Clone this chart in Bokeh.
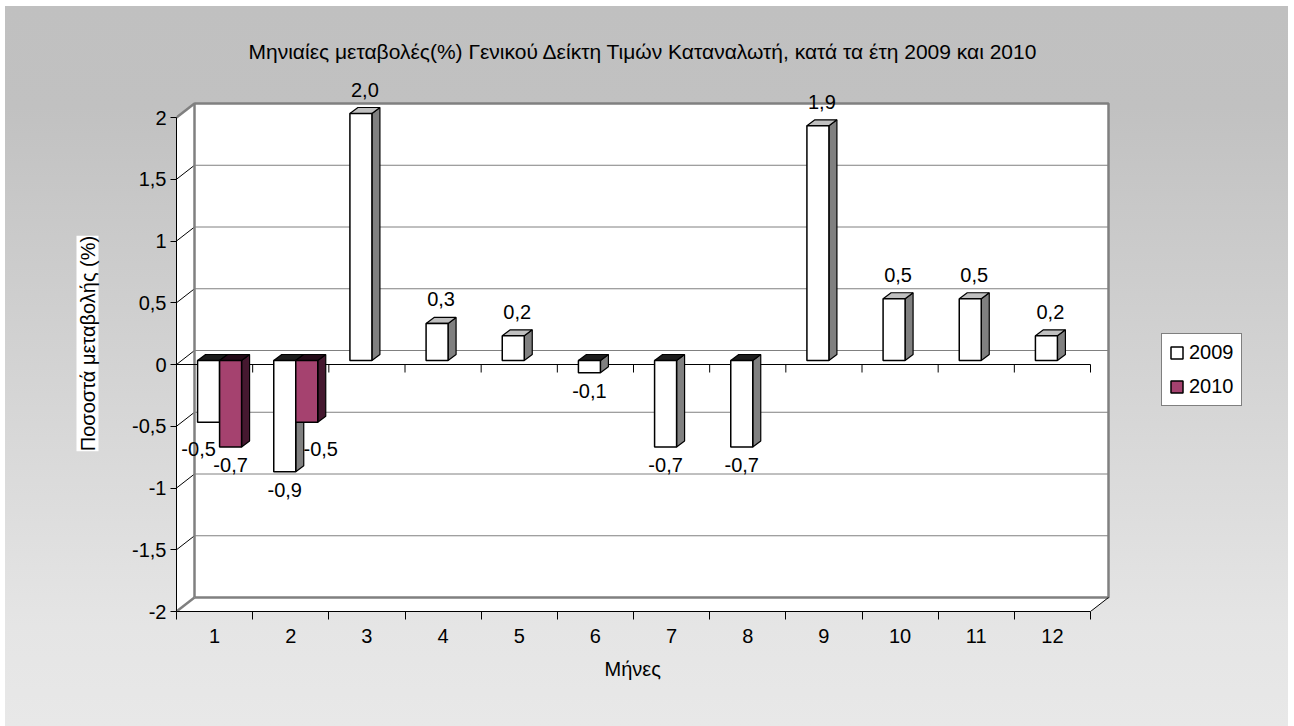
import math
from bokeh.plotting import figure
from bokeh.models import (Range1d, FixedTicker, LabelSet, ColumnDataSource,
                          Legend, LegendItem, Title)
from bokeh.embed import file_html
from bokeh.resources import INLINE
from bokeh.core.properties import value

# ---------------- data ----------------
months = ["1", "2", "3", "4", "5", "6", "7", "8", "9", "10", "11", "12"]
series_names = ["2009", "2010"]
values_2009 = [-0.5, -0.9, 2.0, 0.3, 0.2, -0.1, -0.7, -0.7, 1.9, 0.5, 0.5, 0.2]
values_2010 = [-0.7, -0.5, None, None, None, None, None, None, None, None, None, None]
y_ticks = [-2, -1.5, -1, -0.5, 0, 0.5, 1, 1.5, 2]
y_tick_labels = ["-2", "-1,5", "-1", "-0,5", "0", "0,5", "1", "1,5", "2"]
title_text = "Μηνιαίες μεταβολές(%) Γενικού Δείκτη Τιμών Καταναλωτή, κατά τα έτη 2009 και 2010"
x_title = "Μήνες"
y_title = "Ποσοστά μεταβολής (%)"

# ---------------- layout / style ----------------
FONT = "Liberation Sans"
FS = "20px"
MARGIN_L, MARGIN_T = 5, 6
W, H = 1283, 720
B_LEFT, B_RIGHT, B_TOP, B_BOTTOM = 171, 38, 69, 115
FRAME_W = W - B_LEFT - B_RIGHT
FRAME_H = H - B_TOP - B_BOTTOM
PXX = 914.0 / 12.0        # px per category on the front plane
PXY = 494.0 / 4.0         # px per unit on the front plane
WALL_DX, WALL_DY = 18.0, 14.0
BAR_W, BAR_DX0, BAR_DY0 = 22.0, 5.0, 4.0
BAR_DX, BAR_DY = 8.0, 6.0

X0, X1 = 0.5, 0.5 + len(months)
Y0, Y1 = y_ticks[0], y_ticks[-1]

def ux(px):
    return px / PXX

def uy(px):
    return px / PXY

p = figure(width=W, height=H,
           x_range=Range1d(X0, X0 + FRAME_W / PXX),
           y_range=Range1d(Y0, Y0 + FRAME_H / PXY),
           output_backend="svg", toolbar_location=None,
           min_border_left=B_LEFT, min_border_right=B_RIGHT,
           min_border_top=B_TOP, min_border_bottom=B_BOTTOM,
           background_fill_color=None, border_fill_color=None,
           outline_line_color=None)
p.styles = {"background": "linear-gradient(to bottom, #c0c0c0 0%, #c1c1c1 14%, #e5e5e5 86%, #e8e8e8 100%)",
            "margin-left": f"{MARGIN_L}px", "margin-top": f"{MARGIN_T}px"}
p.xgrid.grid_line_color = None
p.ygrid.grid_line_color = None

# title
p.title.text = title_text
p.title.text_font = FONT
p.title.text_font_size = "21px"
p.title.text_font_style = "normal"
p.title.text_color = "black"
p.title.align = "left"
p.title.offset = 72
p.title.standoff = 26

WDX, WDY = ux(WALL_DX), uy(WALL_DY)

# walls and floor
p.patches(xs=[[X0, X0 + WDX, X0 + WDX, X0], [X0, X1, X1 + WDX, X0 + WDX]],
          ys=[[Y0, Y0 + WDY, Y1 + WDY, Y1], [Y0, Y0, Y0 + WDY, Y0 + WDY]],
          fill_color="white", line_color=None)
p.quad(left=[X0 + WDX], right=[X1 + WDX], bottom=[Y0 + WDY], top=[Y1 + WDY],
       fill_color="white", line_color=None)

# gridlines on back wall and diagonals on side wall
grid_vals = [t for t in y_ticks if Y0 < t < Y1]
p.segment(x0=[X0 + WDX] * len(grid_vals), y0=[g + WDY for g in grid_vals],
          x1=[X1 + WDX] * len(grid_vals), y1=[g + WDY for g in grid_vals],
          line_color="#808080", line_width=1)
p.segment(x0=[X0] * len(grid_vals), y0=grid_vals,
          x1=[X0 + WDX] * len(grid_vals), y1=[g + WDY for g in grid_vals],
          line_color="black", line_width=1)

# wall outlines
p.line(x=[X0 + WDX, X0 + WDX, X1 + WDX, X1 + WDX, X0 + WDX],
       y=[Y0 + WDY, Y1 + WDY, Y1 + WDY, Y0 + WDY, Y0 + WDY],
       line_color="#808080", line_width=2.5)
p.segment(x0=[X0, X0], y0=[Y1, Y0], x1=[X0 + WDX, X0 + WDX], y1=[Y1 + WDY, Y0 + WDY],
          line_color="#808080", line_width=2.5)
p.segment(x0=[X1], y0=[Y0], x1=[X1 + WDX], y1=[Y0 + WDY], line_color="black", line_width=1)

# category axis at zero with downward ticks
bounds_x = [X0 + k for k in range(len(months) + 1)]
p.line(x=[X0, X1], y=[0, 0], line_color="black", line_width=1)
p.segment(x0=bounds_x, y0=[0] * len(bounds_x), x1=bounds_x, y1=[-uy(8)] * len(bounds_x),
          line_color="black", line_width=1)

# bars
face_styles = [
    dict(front="white", side="#808080", top_pos="#c0c0c0", top_neg="#1c1c1c"),
    dict(front="#a5426f", side="#45182f", top_pos="#6d2a4c", top_neg="#230a17"),
]
all_series = [values_2009, values_2010]
front_renderers = []
lab_x, lab_y, lab_t, lab_dx, lab_dy = [], [], [], [], []
for s, vals in enumerate(all_series):
    sty = face_styles[s]
    fl, fr, fb, ft = [], [], [], []
    sxs, sys_, txs, tys, tcol = [], [], [], [], []
    for i, v in enumerate(vals):
        if v is None:
            continue
        c = i + 1
        x0 = c + ux(-BAR_W + BAR_W * s + BAR_DX0)
        x1 = x0 + ux(BAR_W)
        ylo = min(0, v) + uy(BAR_DY0)
        yhi = max(0, v) + uy(BAR_DY0)
        dx, dy = ux(BAR_DX), uy(BAR_DY)
        fl.append(x0); fr.append(x1); fb.append(ylo); ft.append(yhi)
        sxs.append([x1, x1 + dx, x1 + dx, x1]); sys_.append([ylo, ylo + dy, yhi + dy, yhi])
        txs.append([x0, x0 + dx, x1 + dx, x1]); tys.append([yhi, yhi + dy, yhi + dy, yhi])
        tcol.append(sty["top_pos"] if v >= 0 else sty["top_neg"])
        # data label
        other = all_series[1 - s][i]
        shift_x, shift_y = 0.0, 0.0
        if other is not None and other * v > 0 and abs(v) < abs(other):
            shift_x = -10.0 if s == 0 else 14.0
            shift_y = -9.0
        lab_x.append((x0 + x1) / 2)
        lab_y.append(v)
        lab_t.append(f"{v:.1f}".replace(".", ","))
        if v >= 0:
            lab_dx.append(4.0 + shift_x); lab_dy.append(28.0 + shift_y)
        else:
            lab_dx.append(0.0 + shift_x); lab_dy.append(-14.0 + shift_y)
    p.patches(xs=sxs, ys=sys_, fill_color=sty["side"], line_color="black", line_width=1.2)
    p.patches(xs=txs, ys=tys, fill_color=tcol, line_color="black", line_width=1.2)
    r = p.quad(left=fl, right=fr, bottom=fb, top=ft, fill_color=sty["front"],
               line_color="black", line_width=1.5)
    front_renderers.append(r)

labels = LabelSet(x="x", y="y", text="t", x_offset="dx", y_offset="dy",
                  source=ColumnDataSource(dict(x=lab_x, y=lab_y, t=lab_t, dx=lab_dx, dy=lab_dy)),
                  text_align="center", text_baseline="middle",
                  text_font=value(FONT), text_font_size=FS, text_color="black")
p.add_layout(labels)

# axes
xa = p.xaxis[0]
xa.bounds = (X0, X1)
xa.ticker = FixedTicker(ticks=list(range(1, len(months) + 1)),
                        minor_ticks=bounds_x)
xa.major_label_overrides = {k + 1: m for k, m in enumerate(months)}
xa.major_tick_line_color = None
xa.major_tick_out = 8
xa.major_tick_in = 0
xa.minor_tick_line_color = "black"
xa.minor_tick_out = 8
xa.minor_tick_in = 0
xa.major_label_standoff = 9
xa.major_label_text_font = FONT
xa.major_label_text_font_size = FS
xa.major_label_text_color = "black"
xa.axis_line_color = "black"

ya = p.yaxis[0]
ya.bounds = (Y0, Y1)
ya.ticker = FixedTicker(ticks=y_ticks, minor_ticks=[])
ya.major_label_overrides = {t: l for t, l in zip(y_ticks, y_tick_labels)}
ya.major_tick_out = 6
ya.major_tick_in = 0
ya.major_tick_line_color = "black"
ya.minor_tick_line_color = None
ya.major_label_standoff = 4
ya.major_label_text_font = FONT
ya.major_label_text_font_size = FS
ya.major_label_text_color = "black"
ya.axis_line_color = "black"

# axis titles (as side titles, outside the frame)
ytitle = Title(text=y_title, align="center", text_font=FONT, text_font_size=FS,
               text_font_style="normal", text_color="black",
               background_fill_color="white", standoff=62)
p.add_layout(ytitle, "left")
xtitle = Title(text=x_title, align="left", offset=428, text_font=FONT,
               text_font_size=FS, text_font_style="normal", text_color="black",
               standoff=21)
p.add_layout(xtitle, "below")

legend = Legend(items=[LegendItem(label=series_names[k], renderers=[front_renderers[k]])
                       for k in range(2)],
                location=(985, 205), orientation="vertical",
                background_fill_color="white", background_fill_alpha=1.0,
                border_line_color="black", border_line_width=1,
                padding=7, spacing=11, margin=0,
                glyph_width=15, glyph_height=15, label_standoff=5,
                label_text_font=FONT, label_text_font_size=FS, label_text_color="black")
p.add_layout(legend)

open("out.html", "w").write(file_html(p, INLINE))
